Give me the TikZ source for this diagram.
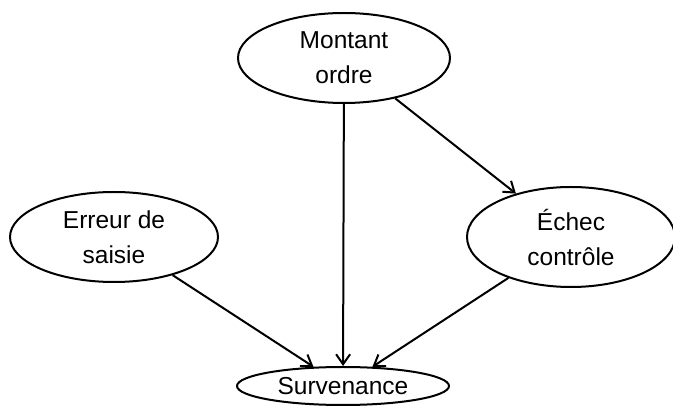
\documentclass[tikz,border=0pt]{standalone}
\usepackage{fontspec}
\setmainfont{Liberation Sans}
\usetikzlibrary{shapes.geometric,arrows.meta}

\begin{document}
\begin{tikzpicture}[x=1pt,y=1pt,
	cause/.style={draw, ellipse, line width=2pt, inner sep=0pt, align=center,
		font=\fontsize{24.5}{35}\selectfont},
	link/.style={line width=2pt, -{Straight Barb[length=10pt,width=14pt]}}]

	% ---- frame

	\useasboundingbox (0,0) rectangle (673,407);

	% ---- nodes

	\node[cause, minimum width=212pt, minimum height=90pt] (mont) at (344,349) {Montant\\ordre};
	\node[cause, minimum width=208pt, minimum height=90pt] (err) at (114,170) {Erreur de\\saisie};
	\node[cause, minimum width=208pt, minimum height=100pt] (ech) at (571,170) {Échec\\contrôle};
	\node[cause, minimum width=212pt, minimum height=38pt] (surv) at (343,21) {Survenance};

	% ---- arrows

	\draw[link] (mont) -- (ech);
	\draw[link] (mont) -- (surv);
	\draw[link] (err) -- (surv);
	\draw[link] (ech) -- (surv);

\end{tikzpicture}
\end{document}
